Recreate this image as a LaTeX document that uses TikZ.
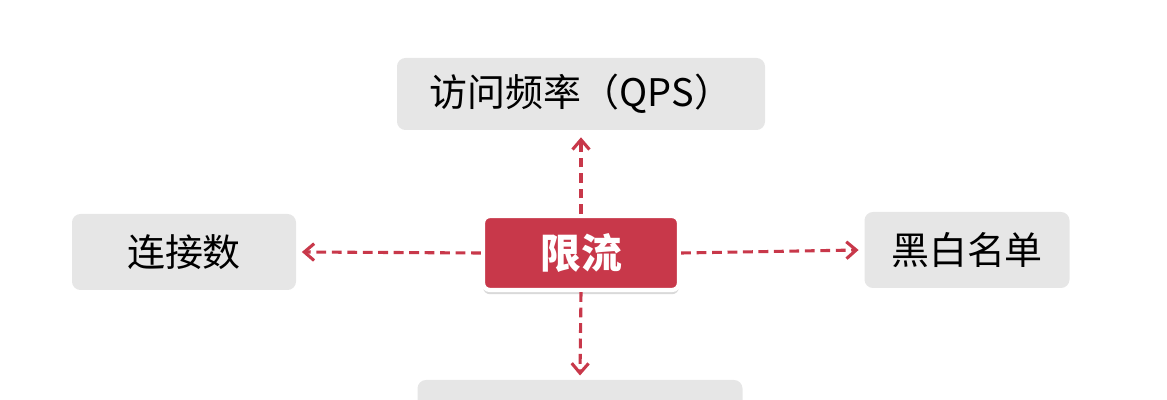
\documentclass[tikz,border=0pt]{standalone}
\usepackage{fontspec}
\setmainfont{Noto Sans CJK SC}
\usepackage{tikz}
\usetikzlibrary{arrows.meta,positioning,shadows}
\definecolor{limitred}{HTML}{C8384A}
\definecolor{boxgray}{HTML}{E6E6E6}

\begin{document}
\begin{tikzpicture}[x=0.025cm, y=-0.025cm,
    graybox/.style={fill=boxgray, rounded corners=6pt, inner sep=0pt, font=\fontsize{27}{30}\selectfont},
    flow/.style={limitred, line width=2.2pt, dash pattern=on 7pt off 4pt, -{Straight Barb[length=7pt,width=12pt,line width=2.2pt]}}]
    \useasboundingbox (0,0) rectangle (1167,400);
    \clip (0,0) rectangle (1167,400);

    % Outer boxes
    \node[graybox, minimum width=368*0.025cm, minimum height=72*0.025cm] (qps) at (581,94) {访问频率（QPS）};
    \node[graybox, minimum width=224*0.025cm, minimum height=76*0.025cm] (conn) at (184,252) {连接数};
    \node[graybox, minimum width=205*0.025cm, minimum height=76*0.025cm] (list) at (967,250) {黑白名单};
    \node[graybox, minimum width=325*0.025cm, minimum height=80*0.025cm] (low) at (580,420) {};

    % Centre
    \node[fill=limitred, draw=white, line width=3pt, rounded corners=5pt,
          minimum width=196*0.025cm, minimum height=74*0.025cm,
          text=white, font=\bfseries\fontsize{29}{32}\selectfont,
          drop shadow={shadow xshift=0pt, shadow yshift=-3pt, opacity=0.3}] (limit) at (581,253) {限流};

    % Connectors
    \draw[flow] (limit.north) -- ([yshift=-5pt]qps.south);
    \draw[flow] (limit.west) -- ([xshift=4pt]conn.east);
    \draw[flow] (limit.east) -- ([xshift=-4pt]list.west);
    \draw[flow] (limit.south) -- ([yshift=3pt]low.north);
\end{tikzpicture}
\end{document}
